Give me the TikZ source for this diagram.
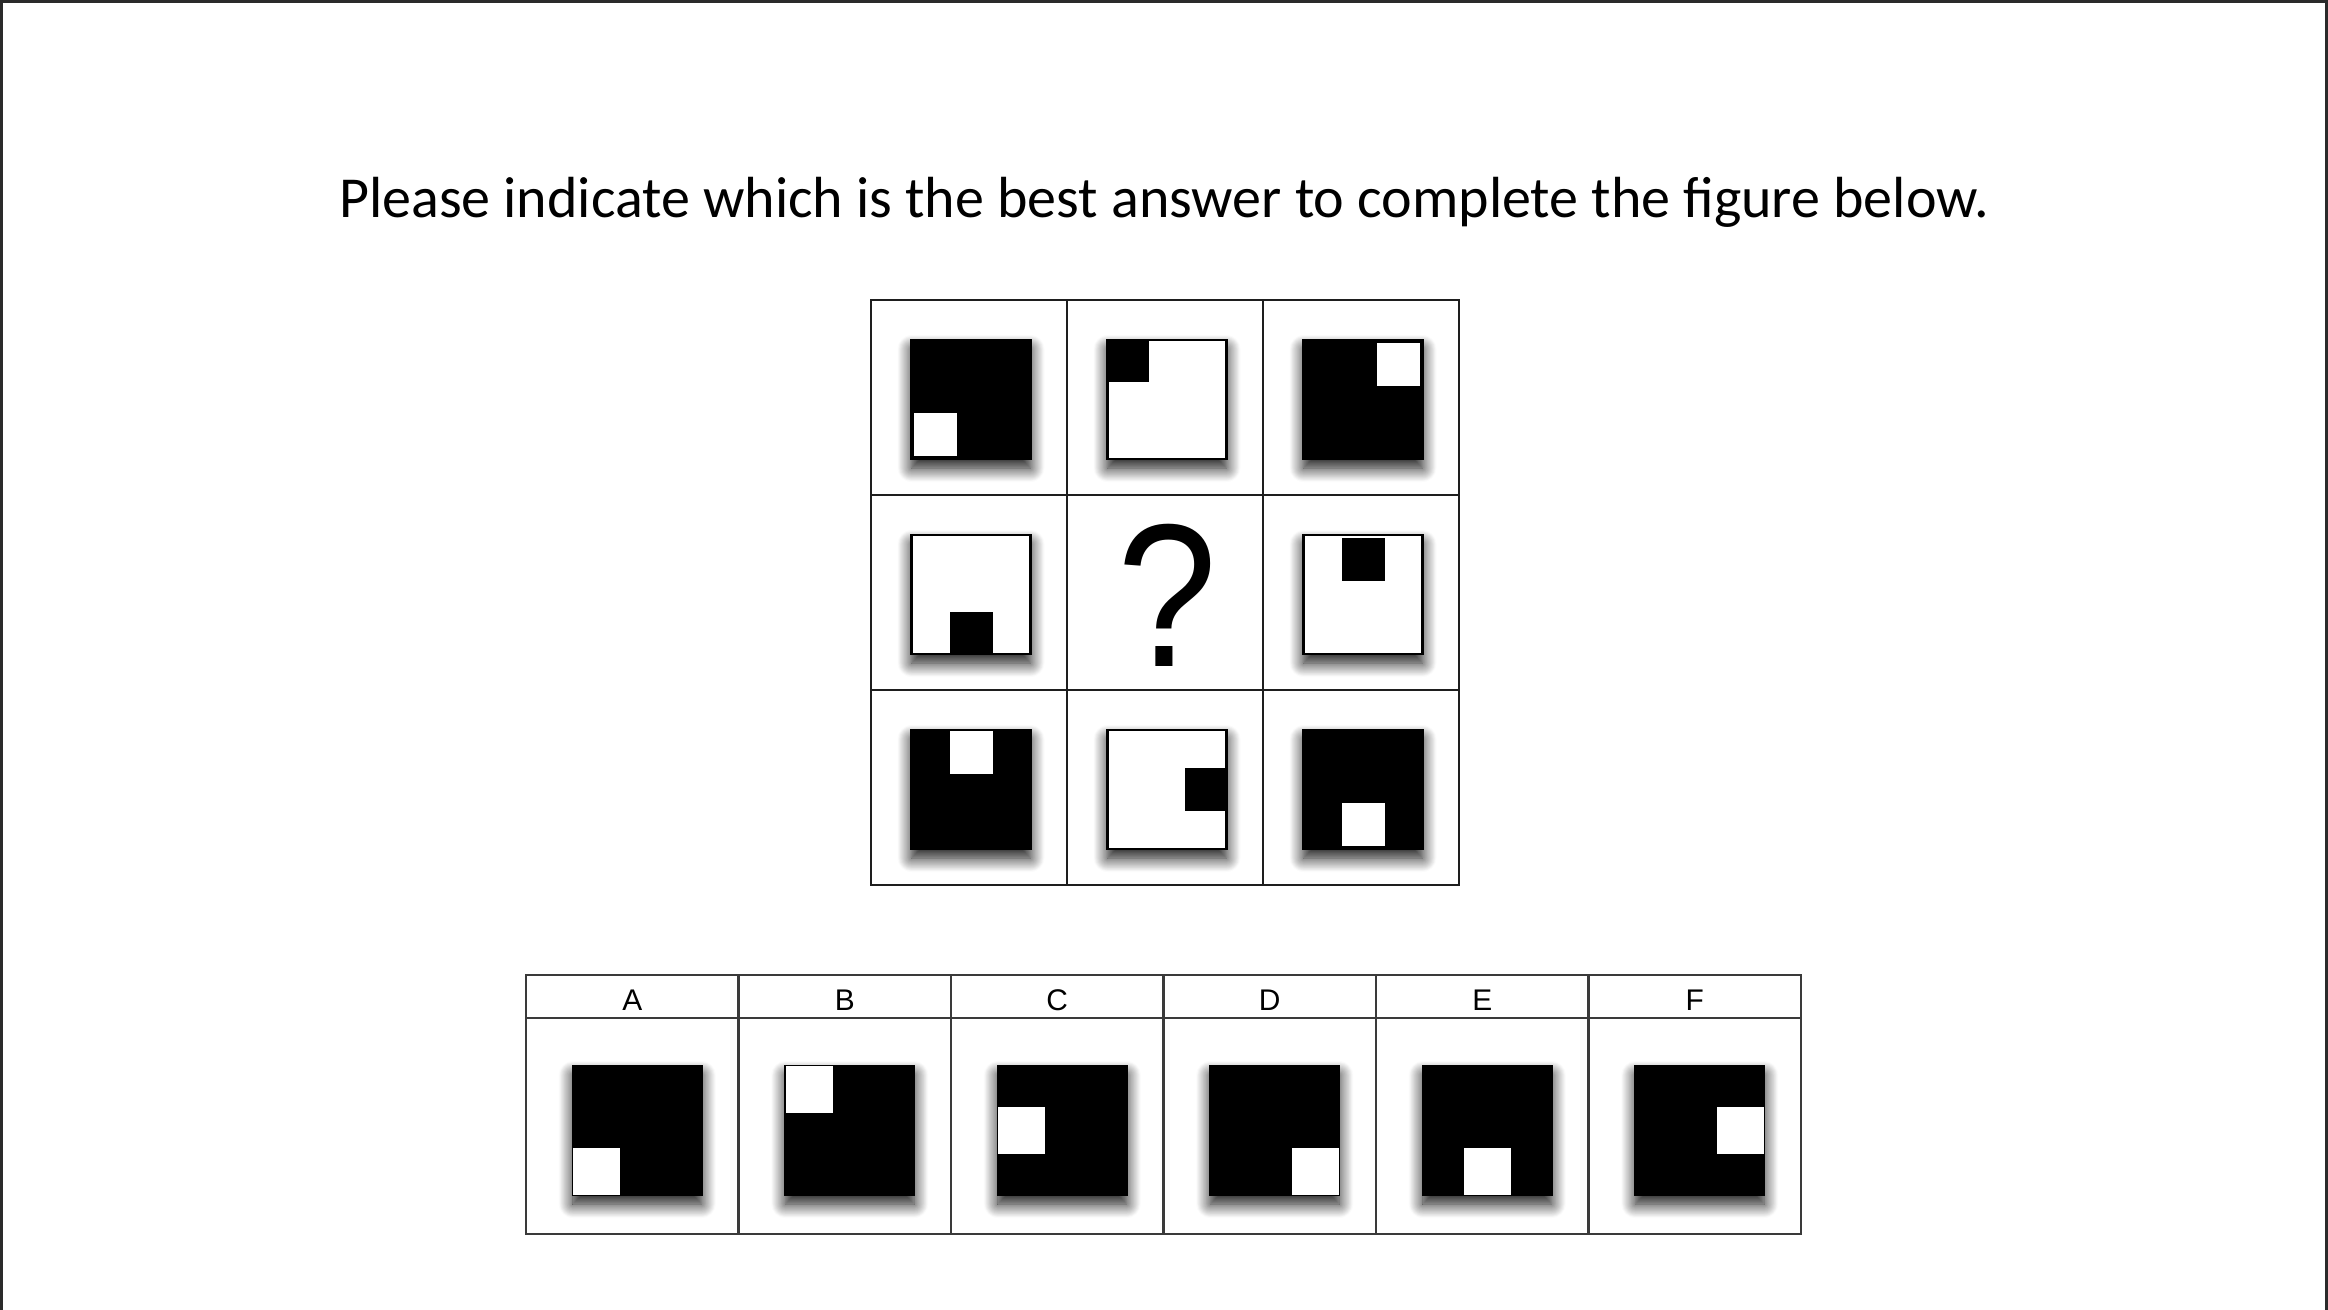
\documentclass[tikz,border=0pt]{standalone}
\usepackage{fontspec}
\setmainfont{Carlito}
\newfontfamily\arialfont{Liberation Sans}
\usetikzlibrary{positioning,shadows.blur}
\definecolor{gridline}{HTML}{1E1E1E}
\definecolor{tableline}{HTML}{3A3A3A}
\definecolor{framegray}{HTML}{2A2A2A}

\begin{document}
\begin{tikzpicture}[
    cell/.style={draw=gridline, line width=0.6pt, minimum width=1.96cm, minimum height=1.95cm, inner sep=0pt, outer sep=0pt},
    headcell/.style={draw=tableline, line width=0.6pt, minimum width=2.125cm, minimum height=0.43cm, inner sep=0pt, outer sep=0pt, text height=0.27cm, text depth=0cm, font=\arialfont\fontsize{8.5}{10}\selectfont},
    optcell/.style={draw=tableline, line width=0.6pt, minimum width=2.125cm, minimum height=2.16cm, inner sep=0pt, outer sep=0pt},
    sqshadow/.style={blur shadow={shadow xshift=0cm, shadow yshift=-0.09cm, shadow blur radius=0.14cm, shadow blur steps=16, shadow opacity=95}},
    bigbox/.style={draw=black, line width=0.6pt, minimum size=1.19cm, inner sep=0pt, sqshadow},
    bigblack/.style={bigbox, fill=black},
    bigwhite/.style={bigbox, fill=white},
    tilebk/.style={fill=black, minimum size=0.43cm, inner sep=0pt, outer sep=0pt},
    tilewh/.style={fill=white, minimum size=0.43cm, inner sep=0pt, outer sep=0.04cm},
    optblack/.style={draw=black, line width=0.6pt, fill=black, minimum size=1.29cm, inner sep=0pt, sqshadow},
    opttile/.style={fill=white, minimum size=0.47cm, inner sep=0pt, outer sep=0.015cm}
]
\useasboundingbox (0,0) rectangle (23.28,-13.10);

% Frame
\draw[framegray, line width=0.06cm] (0,-13.10) -- (0,0) -- (23.28,0) -- (23.28,-13.10);

% Title
\node[anchor=base, font=\fontsize{16.5}{20}\selectfont] (title) at (11.64,-2.17) {Please indicate which is the best answer to complete the figure below.};

% Matrix cells
\node[cell] (g11) at (9.69,-3.975) {};
\node[cell, right=0pt of g11] (g12) {};
\node[cell, right=0pt of g12] (g13) {};
\node[cell, below=0pt of g11] (g21) {};
\node[cell, right=0pt of g21] (g22) {};
\node[cell, right=0pt of g22] (g23) {};
\node[cell, below=0pt of g21] (g31) {};
\node[cell, right=0pt of g31] (g32) {};
\node[cell, right=0pt of g32] (g33) {};

% Row 1
\node[bigblack] (q11) at ([shift={(0.02,-0.02)}]g11.center) {};
\node[tilewh, anchor=south west] at (q11.south west) {};
\node[bigwhite] (q12) at ([shift={(0.02,-0.02)}]g12.center) {};
\node[tilebk, anchor=north west] at (q12.north west) {};
\node[bigblack] (q13) at ([shift={(0.02,-0.02)}]g13.center) {};
\node[tilewh, anchor=north east] at (q13.north east) {};

% Row 2
\node[bigwhite] (q21) at ([shift={(0.02,-0.02)}]g21.center) {};
\node[tilebk, anchor=south] at (q21.south) {};
\node[font=\arialfont\fontsize{58}{62}\selectfont, xscale=0.88] (qmark) at ([shift={(0.02,-0.03)}]g22.center) {?};
\node[bigwhite] (q23) at ([shift={(0.02,-0.02)}]g23.center) {};
\node[tilebk, anchor=north, yshift=-0.04cm] at (q23.north) {};

% Row 3
\node[bigblack] (q31) at ([shift={(0.02,-0.02)}]g31.center) {};
\node[tilewh, anchor=north, outer sep=0.02cm] at (q31.north) {};
\node[bigwhite] (q32) at ([shift={(0.02,-0.02)}]g32.center) {};
\node[tilebk, anchor=east] at (q32.east) {};
\node[bigblack] (q33) at ([shift={(0.02,-0.02)}]g33.center) {};
\node[tilewh, anchor=south] at (q33.south) {};

% Answer table header
\node[headcell] (hA) at (6.3225,-9.965) {A};
\node[headcell, right=0pt of hA] (hB) {B};
\node[headcell, right=0pt of hB] (hC) {C};
\node[headcell, right=0pt of hC] (hD) {D};
\node[headcell, right=0pt of hD] (hE) {E};
\node[headcell, right=0pt of hE] (hF) {F};

% Answer table body
\node[optcell, below=0pt of hA] (oA) {};
\node[optcell, below=0pt of hB] (oB) {};
\node[optcell, below=0pt of hC] (oC) {};
\node[optcell, below=0pt of hD] (oD) {};
\node[optcell, below=0pt of hE] (oE) {};
\node[optcell, below=0pt of hF] (oF) {};

% Answer options
\node[optblack] (sA) at ([shift={(0.05,-0.045)}]oA.center) {};
\node[opttile, anchor=south west] at (sA.south west) {};
\node[optblack] (sB) at ([shift={(0.05,-0.045)}]oB.center) {};
\node[opttile, anchor=north west] at (sB.north west) {};
\node[optblack] (sC) at ([shift={(0.05,-0.045)}]oC.center) {};
\node[opttile, anchor=west] at (sC.west) {};
\node[optblack] (sD) at ([shift={(0.05,-0.045)}]oD.center) {};
\node[opttile, anchor=south east] at (sD.south east) {};
\node[optblack] (sE) at ([shift={(0.05,-0.045)}]oE.center) {};
\node[opttile, anchor=south] at (sE.south) {};
\node[optblack] (sF) at ([shift={(0.05,-0.045)}]oF.center) {};
\node[opttile, anchor=east] at (sF.east) {};

\end{tikzpicture}
\end{document}
